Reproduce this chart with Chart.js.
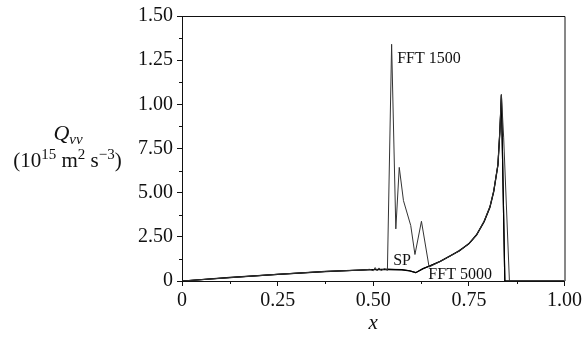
<!DOCTYPE html>
<html><head><meta charset="utf-8">
<script src="https://cdn.jsdelivr.net/npm/chart.js@4"></script>
<style>html,body{margin:0;padding:0;background:#fff}canvas{display:block}</style>
</head><body>
<canvas id="c" width="585" height="337"></canvas>
<script>
const xTickValues=[0,0.25,0.5,0.75,1.0];
const xTickLabels=['0','0.25','0.50','0.75','1.00'];
const yTickValues=[0,0.25,0.5,0.75,1.0,1.25,1.5];
const yTickLabels=['0','2.50','5.00','7.50','1.00','1.25','1.50'];

const fft1500X=[0,0.125,0.25,0.375,0.47,0.49,0.50,0.505,0.51,0.515,0.52,0.53,0.537,0.548,0.559,0.568,0.579,0.598,0.609,0.626,0.646,0.675,0.70,0.725,0.75,0.77,0.79,0.805,0.815,0.826,0.831,0.835,0.841,0.856,1.0];
const fft1500Y=[0,0.019,0.038,0.054,0.062,0.066,0.058,0.076,0.057,0.074,0.059,0.07,0.06,1.34,0.295,0.643,0.455,0.314,0.15,0.338,0.079,0.11,0.14,0.17,0.21,0.26,0.34,0.42,0.51,0.66,0.85,1.055,0.81,0,0];

const fft5000X=[0,0.125,0.25,0.375,0.5,0.54,0.575,0.595,0.611,0.63,0.65,0.675,0.70,0.725,0.75,0.77,0.79,0.805,0.815,0.826,0.831,0.835,0.844,1.0];
const fft5000Y=[0,0.019,0.038,0.054,0.064,0.066,0.064,0.058,0.047,0.07,0.088,0.11,0.14,0.172,0.21,0.26,0.335,0.415,0.505,0.655,0.84,1.05,0,0];

const spX=[0,0.125,0.25,0.375,0.5,0.54,0.575,0.595,0.611,0.63,0.65,0.675,0.70,0.725,0.75,0.77,0.79,0.805,0.815,0.826,0.831,0.835,0.844,1.0];
const spY=[0,0.02,0.038,0.053,0.065,0.066,0.063,0.057,0.047,0.069,0.087,0.112,0.141,0.17,0.212,0.262,0.338,0.42,0.51,0.66,0.85,1.055,0,0];

const labelFFT1500=[0.5625,1.233];
const labelSP=[0.552,0.0886];
const labelFFT5000=[0.644,0.0135];

const pts=(xs,ys)=>xs.map((v,i)=>({x:v,y:ys[i]}));
const serif='"Liberation Serif","Times New Roman",serif';

const decor={id:'decor',afterDraw(chart){
  const {ctx,chartArea:a,scales:{x,y}}=chart;
  ctx.save();
  ctx.strokeStyle='#111';ctx.lineWidth=1;
  ctx.beginPath();
  ctx.moveTo(a.left,a.top+0.5);ctx.lineTo(a.right+0.5,a.top+0.5);ctx.lineTo(a.right+0.5,a.bottom);
  for(const v of [0.125,0.375,0.625,0.875]){const p=Math.round(x.getPixelForValue(v))+0.5;ctx.moveTo(p,a.bottom);ctx.lineTo(p,a.bottom+3);}
  for(const v of [0.125,0.375,0.625,0.875,1.125,1.375]){const p=Math.round(y.getPixelForValue(v))+0.5;ctx.moveTo(a.left,p);ctx.lineTo(a.left-3,p);}
  ctx.stroke();
  ctx.fillStyle='#111';ctx.textBaseline='alphabetic';ctx.textAlign='left';
  ctx.font='16px '+serif;
  ctx.fillText('FFT 1500',x.getPixelForValue(labelFFT1500[0]),y.getPixelForValue(labelFFT1500[1]));
  ctx.fillText('SP',x.getPixelForValue(labelSP[0]),y.getPixelForValue(labelSP[1]));
  ctx.fillText('FFT 5000',x.getPixelForValue(labelFFT5000[0]),y.getPixelForValue(labelFFT5000[1]));
  function rich(parts,cx,base){
    let w=0;for(const p of parts){ctx.font=p.f;w+=ctx.measureText(p.t).width;}
    let px=cx-w/2;
    for(const p of parts){ctx.font=p.f;ctx.fillText(p.t,px,base+(p.dy||0));px+=ctx.measureText(p.t).width;}
  }
  rich([{t:'Q',f:'italic 22px '+serif},{t:'vv',f:'italic 15px '+serif,dy:4}],68,140);
  rich([{t:'(10',f:'21px '+serif},{t:'15',f:'15px '+serif,dy:-8},{t:' m',f:'21px '+serif},{t:'2',f:'15px '+serif,dy:-8},{t:' s',f:'21px '+serif},{t:'\u22123',f:'15px '+serif,dy:-8},{t:')',f:'21px '+serif}],67.5,167);
  ctx.font='italic 21px '+serif;ctx.textAlign='center';
  ctx.fillText('x',(a.left+a.right)/2,329);
  ctx.restore();
}};

new Chart(document.getElementById('c'),{
  type:'line',
  data:{datasets:[
    {label:'FFT 1500',data:pts(fft1500X,fft1500Y),borderColor:'#333',borderWidth:1},
    {label:'FFT 5000',data:pts(fft5000X,fft5000Y),borderColor:'#000',borderWidth:1.2},
    {label:'SP',data:pts(spX,spY),borderColor:'#000',borderWidth:1.2}
  ]},
  options:{
    responsive:false,animation:false,
    layout:{padding:{top:15,right:19,left:0,bottom:0}},
    elements:{point:{radius:0},line:{tension:0}},
    plugins:{legend:{display:false},tooltip:{enabled:false}},
    scales:{
      x:{type:'linear',min:0,max:1,
        afterBuildTicks:s=>{s.ticks=xTickValues.map(v=>({value:v}));},
        afterFit:s=>{s.height=56;},
        ticks:{callback:(v,i)=>xTickLabels[i],color:'#111',font:{family:serif,size:20},padding:3,maxRotation:0,autoSkip:false},
        grid:{drawOnChartArea:false,tickLength:5,color:'#111'},
        border:{color:'#111',width:1}},
      y:{type:'linear',min:0,max:1.5,
        afterBuildTicks:s=>{s.ticks=yTickValues.map(v=>({value:v}));},
        afterFit:s=>{s.width=182;},
        ticks:{callback:(v,i)=>yTickLabels[i],color:'#111',font:{family:serif,size:20},padding:4,autoSkip:false},
        grid:{drawOnChartArea:false,tickLength:5,color:'#111'},
        border:{color:'#111',width:1}}
    }
  },
  plugins:[decor]
});
</script>
</body></html>
